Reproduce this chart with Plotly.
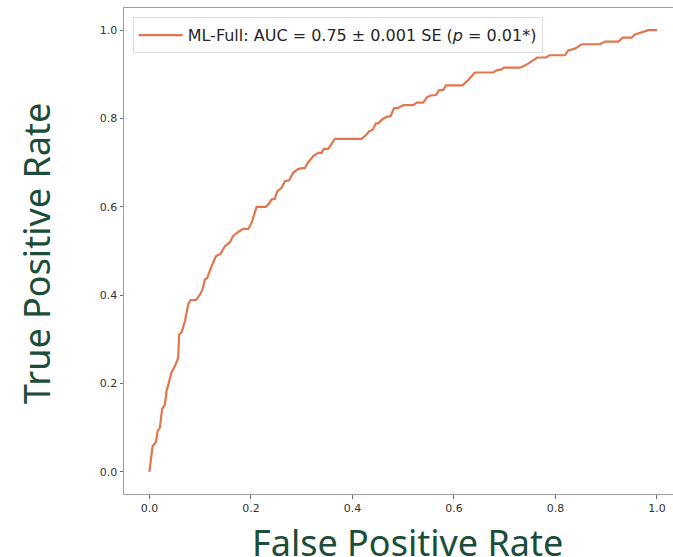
import plotly.graph_objects as go

# ROC curve values
fpr = [0.000, 0.0063, 0.0128, 0.0162, 0.0207, 0.0252, 0.0305, 0.0339, 0.0384, 0.0437,
       0.0502, 0.0567, 0.0587, 0.0634, 0.0700, 0.0765, 0.0812, 0.0916, 0.0995, 0.1048,
       0.1094, 0.1139, 0.1226, 0.1310, 0.1403, 0.1488, 0.1586, 0.1651, 0.1750, 0.1848,
       0.1947, 0.2014, 0.2112, 0.2296, 0.2361, 0.2408, 0.2473, 0.2518, 0.2605, 0.2670,
       0.2755, 0.2833, 0.2932, 0.3064, 0.3129, 0.3228, 0.3326, 0.3393, 0.3438, 0.3523,
       0.3655, 0.4181, 0.4246, 0.4331, 0.4398, 0.4463, 0.4508, 0.4595, 0.4686, 0.4753,
       0.4818, 0.4902, 0.5001, 0.5198, 0.5265, 0.5395, 0.5462, 0.5541, 0.5645, 0.5710,
       0.5789, 0.5842, 0.6171, 0.6282, 0.6414, 0.6774, 0.6841, 0.6940, 0.6985, 0.7300,
       0.7365, 0.7464, 0.7641, 0.7813, 0.7878, 0.8187, 0.8252, 0.8384, 0.8516, 0.8877,
       0.8975, 0.9238, 0.9324, 0.9502, 0.9567, 0.9665, 0.9829, 1.000]
tpr = [0.000, 0.058, 0.067, 0.092, 0.100, 0.143, 0.152, 0.183, 0.202, 0.225,
       0.239, 0.258, 0.311, 0.316, 0.341, 0.379, 0.389, 0.389, 0.401, 0.413,
       0.435, 0.439, 0.466, 0.488, 0.494, 0.511, 0.520, 0.534, 0.543, 0.550,
       0.550, 0.564, 0.600, 0.600, 0.608, 0.617, 0.618, 0.635, 0.643, 0.658,
       0.660, 0.677, 0.686, 0.688, 0.701, 0.715, 0.722, 0.722, 0.731, 0.731,
       0.754, 0.754, 0.760, 0.771, 0.774, 0.789, 0.789, 0.799, 0.804, 0.805,
       0.823, 0.824, 0.830, 0.830, 0.836, 0.836, 0.847, 0.852, 0.853, 0.864,
       0.864, 0.875, 0.875, 0.887, 0.904, 0.904, 0.909, 0.911, 0.915, 0.915,
       0.918, 0.924, 0.938, 0.938, 0.943, 0.943, 0.954, 0.958, 0.968, 0.968,
       0.974, 0.974, 0.983, 0.983, 0.990, 0.994, 1.000, 1.000]

tick_vals = [0.0, 0.2, 0.4, 0.6, 0.8, 1.0]
tick_text = ["0.0", "0.2", "0.4", "0.6", "0.8", "1.0"]
legend_label = "ML-Full: AUC = 0.75 ± 0.001 SE (<i>p</i> = 0.01*)"
x_title = "False Positive Rate"
y_title = "True Positive Rate"

line_color = "#e2774e"
title_color = "#1b4d38"
axis_color = "#a0a0a0"

fig = go.Figure()
fig.add_trace(go.Scatter(
    x=fpr, y=tpr, mode="lines", name=legend_label,
    line=dict(color=line_color, width=2.2), showlegend=True,
))

tick_font = dict(family="DejaVu Sans", size=11, color="#333333")
fig.update_layout(
    width=673, height=557,
    margin=dict(l=124, r=0, t=8, b=63),
    paper_bgcolor="white", plot_bgcolor="white",
    showlegend=True,
    legend=dict(
        x=0.0158, y=0.981, xanchor="left", yanchor="top",
        bgcolor="white", bordercolor="#dddddd", borderwidth=1,
        font=dict(family="DejaVu Sans", size=16, color="#262626"),
        itemwidth=44,
    ),
    xaxis=dict(
        range=[-0.05, 1.0316], tickvals=tick_vals, ticktext=tick_text,
        showgrid=False, zeroline=False, showline=True, linecolor=axis_color,
        linewidth=1, mirror=True, ticks="outside", ticklen=3.5,
        tickcolor="#666666", tickfont=tick_font,
    ),
    yaxis=dict(
        range=[-0.05, 1.05], tickvals=tick_vals, ticktext=tick_text,
        showgrid=False, zeroline=False, showline=True, linecolor=axis_color,
        linewidth=1, ticks="outside", ticklen=3.5,
        tickcolor="#666666", tickfont=tick_font,
    ),
    annotations=[
        dict(text=x_title, xref="paper", yref="paper", x=0.517, y=-0.0988,
             xanchor="center", yanchor="middle", showarrow=False,
             font=dict(family="Noto Sans", size=36, color=title_color)),
        dict(text=y_title, xref="paper", yref="paper", x=-0.1585, y=0.496,
             xanchor="center", yanchor="middle", showarrow=False, textangle=-90,
             font=dict(family="Noto Sans", size=36, color=title_color)),
    ],
)

fig.write_html("out.html")
